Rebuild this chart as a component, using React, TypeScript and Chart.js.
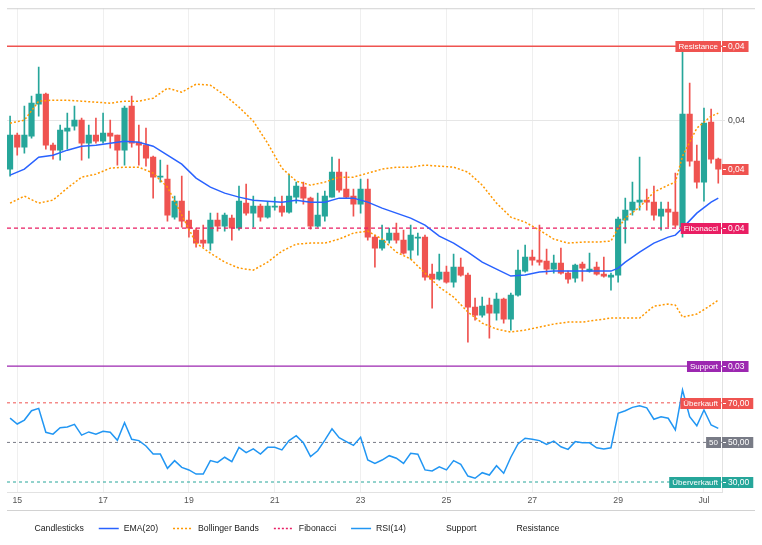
import React, { useEffect, useRef } from "react";
import { Chart, registerables } from "chart.js";

Chart.register(...registerables);

// ---------- data ----------
// 4-hour candles, index 0 = 14 Jun 20:00 ... index 99 = 1 Jul 08:00
const TICK_IDX = [1, 13, 25, 37, 49, 61, 73, 85, 97];
const TICK_LABELS = ["15", "17", "19", "21", "23", "25", "27", "29", "Jul"];

const OPEN = [
  0.038775, 0.039625, 0.039325, 0.0396, 0.0404, 0.04065, 0.039375, 0.03925, 0.039725, 0.03985,
  0.04, 0.039425, 0.039625, 0.039475, 0.039675, 0.039625, 0.03925, 0.04035, 0.03945, 0.039375,
  0.039075, 0.038575, 0.038525, 0.037575, 0.037975, 0.0375, 0.03725, 0.037, 0.036925, 0.0375,
  0.03735, 0.03755, 0.0373, 0.037925, 0.037675, 0.03785, 0.037575, 0.037825, 0.03785, 0.0377,
  0.038075, 0.038325, 0.03805, 0.03735, 0.0376, 0.038075, 0.0387, 0.038275, 0.0381, 0.0379,
  0.038275, 0.037075, 0.0368, 0.037, 0.037175, 0.037, 0.03675, 0.03705, 0.037075, 0.03615,
  0.036025, 0.0362, 0.03595, 0.036325, 0.036125, 0.035325, 0.035125, 0.035375, 0.035175, 0.035525,
  0.035025, 0.035625, 0.036225, 0.036575, 0.0365, 0.036475, 0.036275, 0.036425, 0.036175, 0.03605,
  0.0364, 0.036225, 0.036325, 0.03615, 0.036075, 0.036125, 0.0375, 0.03775, 0.03795, 0.038,
  0.03795, 0.0376, 0.037775, 0.0377, 0.037325, 0.04015, 0.038975, 0.03845, 0.03995, 0.039025,
];
const HIGH = [
  0.0401, 0.039675, 0.04035, 0.0406, 0.041325, 0.040675, 0.039425, 0.039875, 0.040175, 0.04035,
  0.04005, 0.039875, 0.04005, 0.040175, 0.04, 0.039625, 0.04035, 0.0406, 0.039875, 0.0398,
  0.0391, 0.039, 0.038875, 0.0381, 0.0386, 0.037725, 0.0373, 0.037375, 0.037675, 0.037675,
  0.037675, 0.037625, 0.03835, 0.0384, 0.0381, 0.0379, 0.03795, 0.038075, 0.0381, 0.03865,
  0.03845, 0.03845, 0.038075, 0.038175, 0.038225, 0.039075, 0.039025, 0.0387, 0.038275, 0.038525,
  0.038525, 0.037125, 0.037375, 0.0373, 0.037425, 0.03725, 0.037375, 0.037175, 0.037125, 0.0364,
  0.03665, 0.03635, 0.03665, 0.03655, 0.036175, 0.03555, 0.035575, 0.03555, 0.035675, 0.03555,
  0.035675, 0.03675, 0.036875, 0.03675, 0.037375, 0.036775, 0.036625, 0.0368, 0.036225, 0.0364,
  0.03645, 0.036675, 0.03645, 0.036575, 0.036175, 0.037575, 0.03805, 0.03845, 0.039075, 0.038275,
  0.03835, 0.03795, 0.03795, 0.038675, 0.04185, 0.040925, 0.039375, 0.0403, 0.040275, 0.03905,
];
const LOW = [
  0.0386, 0.039125, 0.039175, 0.03955, 0.0401, 0.039275, 0.039025, 0.039, 0.039275, 0.03975,
  0.039, 0.03905, 0.039425, 0.039425, 0.0393, 0.038875, 0.038875, 0.039325, 0.038875, 0.03885,
  0.03805, 0.03845, 0.037475, 0.037525, 0.037325, 0.037075, 0.036825, 0.036825, 0.03675, 0.037225,
  0.037225, 0.037, 0.03725, 0.037625, 0.037325, 0.037475, 0.03755, 0.03775, 0.0376, 0.037675,
  0.037925, 0.0379, 0.037275, 0.037325, 0.037475, 0.038075, 0.0382, 0.03805, 0.0376, 0.037675,
  0.037, 0.036325, 0.03675, 0.036925, 0.036925, 0.03665, 0.036525, 0.036625, 0.036, 0.0353,
  0.036, 0.035925, 0.035825, 0.0361, 0.03445, 0.035, 0.035075, 0.03455, 0.035, 0.034925,
  0.03475, 0.0356, 0.0362, 0.036375, 0.036375, 0.03615, 0.036175, 0.03615, 0.035925, 0.03595,
  0.035975, 0.0362, 0.036125, 0.036075, 0.03575, 0.03595, 0.036925, 0.037625, 0.03775, 0.03775,
  0.0375, 0.03725, 0.037325, 0.037325, 0.037075, 0.03885, 0.0383, 0.037975, 0.038925, 0.038425,
];
const CLOSE = [
  0.039625, 0.039325, 0.039625, 0.040425, 0.04065, 0.039375, 0.03925, 0.03975, 0.0398, 0.04,
  0.039425, 0.039625, 0.039475, 0.039675, 0.0396, 0.03925, 0.0403, 0.039425, 0.039375, 0.03905,
  0.038575, 0.0386, 0.037625, 0.037975, 0.037475, 0.0373, 0.036925, 0.036925, 0.0375, 0.03735,
  0.037625, 0.0373, 0.037975, 0.037675, 0.03785, 0.037575, 0.03785, 0.03785, 0.0377, 0.0381,
  0.03835, 0.03805, 0.03735, 0.037625, 0.0381, 0.0387, 0.03825, 0.038075, 0.0379, 0.038275,
  0.037075, 0.0368, 0.037, 0.037175, 0.037, 0.036675, 0.037125, 0.037075, 0.036075, 0.036025,
  0.0362, 0.03595, 0.036325, 0.036125, 0.035325, 0.035125, 0.03535, 0.035175, 0.035525, 0.035025,
  0.035625, 0.03625, 0.036575, 0.0365, 0.03645, 0.036275, 0.036425, 0.036175, 0.036025, 0.036375,
  0.0363, 0.036275, 0.03615, 0.0361, 0.036125, 0.037525, 0.03775, 0.03795, 0.038, 0.03795,
  0.037625, 0.037775, 0.0377, 0.037375, 0.04015, 0.038975, 0.03845, 0.039925, 0.039025, 0.038775,
];

// indicator lines, read at these candle indices
const SAMPLE_IDX = [
  0, 2, 4, 6, 8, 10, 12, 14, 16, 18, 20, 22, 24, 26, 28, 30, 32, 34, 36, 38, 40, 42, 44, 46, 48,
  50, 52, 54, 56, 58, 60, 62, 64, 66, 68, 70, 72, 74, 76, 78, 80, 82, 84, 85, 86, 88, 90, 92, 93,
  94, 96, 98, 99,
];
const EMA20 = [
  0.038625, 0.038775, 0.039075, 0.039125, 0.03925, 0.03935, 0.039375, 0.039425, 0.039475, 0.03945,
  0.03935, 0.039125, 0.0389, 0.03855, 0.038325, 0.038175, 0.038075, 0.038, 0.037975, 0.03795,
  0.038, 0.03795, 0.03795, 0.03805, 0.03805, 0.03795, 0.0378, 0.037675, 0.03755, 0.037375,
  0.0371, 0.036925, 0.0367, 0.03645, 0.036275, 0.0361, 0.036125, 0.0362, 0.036225, 0.036225,
  0.036225, 0.036225, 0.036225, 0.0363, 0.03645, 0.0367, 0.036925, 0.037075, 0.037125, 0.0373,
  0.037675, 0.03795, 0.03805,
];
const BB_UPPER = [
  0.039925, 0.04, 0.040475, 0.0405, 0.0405, 0.040475, 0.04045, 0.040425, 0.040475, 0.040475,
  0.04055, 0.0408, 0.0407, 0.0409, 0.040875, 0.040625, 0.040325, 0.039975, 0.039425, 0.0388,
  0.038475, 0.038375, 0.03845, 0.038575, 0.038575, 0.038675, 0.038775, 0.038825, 0.038825, 0.038875,
  0.03885, 0.038825, 0.0387, 0.038375, 0.037925, 0.037575, 0.03745, 0.03725, 0.037025, 0.036925,
  0.03695, 0.03695, 0.036975, 0.0373, 0.03755, 0.037825, 0.0382, 0.038375, 0.03845, 0.0391,
  0.0398, 0.0401, 0.040175,
];
const BB_LOWER = [
  0.037925, 0.0381, 0.037925, 0.038, 0.0383, 0.038575, 0.03865, 0.0388, 0.038825, 0.038825,
  0.038675, 0.038325, 0.037625, 0.036925, 0.036675, 0.03645, 0.0363, 0.03625, 0.03645, 0.036725,
  0.0369, 0.036925, 0.036925, 0.037025, 0.037175, 0.037225, 0.037025, 0.0367, 0.036525, 0.036175,
  0.035825, 0.035575, 0.0352, 0.034925, 0.034775, 0.0347, 0.03475, 0.034825, 0.0349, 0.03495,
  0.03495, 0.035, 0.03505, 0.03505, 0.03505, 0.03505, 0.03535, 0.0354, 0.035375, 0.035075,
  0.03515, 0.035375, 0.0355,
];
const RSI14 = [
  62.3, 59.3, 61.3, 66, 67.2, 55.1, 54.2, 57.4, 57.8, 59.1,
  53.7, 55.3, 54.1, 55.6, 55.1, 51.1, 60, 51.6, 50.9, 48.2,
  44.1, 44.1, 36.9, 40.8, 37.4, 36.1, 34, 34, 40.8, 39.9,
  42.5, 40.3, 47.5, 44.8, 46.7, 44.1, 47.5, 47.5, 46.2, 50.9,
  53.4, 49.8, 42.8, 45.8, 51.2, 56.9, 52.4, 50.4, 48.5, 52.6,
  41.1, 39.4, 41.1, 43.3, 42, 39.4, 44.5, 44, 36.1, 35.6,
  37.7, 36.1, 40.8, 38.9, 33, 31.9, 34.7, 33.5, 38.2, 34.4,
  42.5, 49.2, 52.1, 51.6, 50.9, 49, 50.7, 47.8, 46.5, 50.4,
  49.8, 49.8, 47.3, 46.7, 47.3, 64.7, 66, 67.7, 68.5, 67.5,
  61.7, 63, 62.2, 56.3, 76.5, 63, 58.4, 66.4, 58.8, 57.1,
];

const RESISTANCE = 0.04185;
const SUPPORT = 0.03385;
const FIBONACCI = 0.0373;
const RSI_OVERBOUGHT = 70;
const RSI_MID = 50;
const RSI_OVERSOLD = 30;
const PRICE_TICKS = [0.04];
const RSI_TICKS = [30, 40, 50, 60, 70, 80];
const RSI_PLAIN_TICKS = [40, 60, 80];

// ---------- view settings ----------
const X_MIN = -0.43;
const X_MAX = 99.52;
const PRICE_MIN = 0.0337;
const PRICE_MAX = 0.0428;
const RSI_MIN = 24.95;
const RSI_MAX = 85.55;

const UP = "#26a69a";
const DOWN = "#ef5350";
const EMA_COLOR = "#2962ff";
const BB_COLOR = "#ff9800";
const FIB_COLOR = "#e91e63";
const RSI_COLOR = "#2196f3";
const SUPPORT_COLOR = "#9c27b0";
const RES_COLOR = "#ef5350";
const MID_COLOR = "#787b86";
const FONT = '"Liberation Sans", Arial, sans-serif';

const fmt = (v: number) => v.toFixed(2).replace(".", ",");

const TAGS = [
  { axis: "y", value: RESISTANCE, text: "Resistance", color: RES_COLOR },
  { axis: "y", value: CLOSE[CLOSE.length - 1], text: "", color: DOWN },
  { axis: "y", value: FIBONACCI, text: "Fibonacci", color: FIB_COLOR },
  { axis: "y", value: SUPPORT, text: "Support", color: SUPPORT_COLOR },
  { axis: "yR", value: RSI_OVERBOUGHT, text: "Überkauft", color: DOWN },
  { axis: "yR", value: RSI_MID, text: "50", color: MID_COLOR },
  { axis: "yR", value: RSI_OVERSOLD, text: "Überverkauft", color: UP },
];

const LEGEND = [
  { text: "Candlesticks", color: "", dash: [] as number[] },
  { text: "EMA(20)", color: EMA_COLOR, dash: [] as number[] },
  { text: "Bollinger Bands", color: BB_COLOR, dash: [2, 2] },
  { text: "Fibonacci", color: FIB_COLOR, dash: [2, 2] },
  { text: "RSI(14)", color: RSI_COLOR, dash: [] as number[] },
  { text: "Support", color: "", dash: [] as number[] },
  { text: "Resistance", color: "", dash: [] as number[] },
];

const framePlugin = {
  id: "frame",
  afterDraw(chart: any) {
    const ctx = chart.ctx;
    const a = chart.chartArea;
    const xs = chart.scales.x;
    ctx.save();
    ctx.strokeStyle = "#d2d2d2";
    ctx.lineWidth = 1;
    ctx.beginPath();
    ctx.moveTo(a.left, a.top + 0.5);
    ctx.lineTo(755, a.top + 0.5);
    ctx.moveTo(a.left, xs.bottom - 0.5);
    ctx.lineTo(755, xs.bottom - 0.5);
    ctx.stroke();
    ctx.restore();
  },
};

const tagPlugin = {
  id: "tags",
  afterDraw(chart: any) {
    const ctx = chart.ctx;
    const right = chart.chartArea.right;
    ctx.save();
    ctx.textBaseline = "middle";
    ctx.textAlign = "left";
    for (const t of TAGS) {
      const y = Math.round(chart.scales[t.axis].getPixelForValue(t.value));
      const val = fmt(t.value);
      ctx.font = `8.5px ${FONT}`;
      const vw = ctx.measureText(val).width;
      ctx.fillStyle = t.color;
      ctx.fillRect(right, y - 5, vw + 10, 11);
      ctx.strokeStyle = "#fff";
      ctx.lineWidth = 1;
      ctx.beginPath();
      ctx.moveTo(right + 1, y + 0.5);
      ctx.lineTo(right + 4, y + 0.5);
      ctx.stroke();
      ctx.fillStyle = "#fff";
      ctx.fillText(val, right + 6, y + 1);
      if (t.text) {
        ctx.font = `8px ${FONT}`;
        const lw = ctx.measureText(t.text).width;
        ctx.fillStyle = t.color;
        ctx.fillRect(right - 1 - lw - 6, y - 5, lw + 6, 11);
        ctx.fillStyle = "#fff";
        ctx.fillText(t.text, right - 1 - lw - 3, y + 1);
      }
    }
    ctx.restore();
  },
};

const legendPlugin = {
  id: "customLegend",
  afterDraw(chart: any) {
    const ctx = chart.ctx;
    ctx.save();
    ctx.font = `8.7px ${FONT}`;
    ctx.textBaseline = "middle";
    ctx.textAlign = "left";
    let x = 9.5;
    const y = 528.5;
    for (const it of LEGEND) {
      if (it.color) {
        ctx.strokeStyle = it.color;
        ctx.lineWidth = 1.5;
        ctx.setLineDash(it.dash);
        ctx.beginPath();
        ctx.moveTo(x, y);
        ctx.lineTo(x + 20, y);
        ctx.stroke();
        ctx.setLineDash([]);
      }
      ctx.fillStyle = "#222";
      ctx.fillText(it.text, x + 25, y);
      x += 25 + ctx.measureText(it.text).width + 15;
    }
    ctx.restore();
  },
};

function levelLine(label: string, value: number, axis: string, color: string, dash: number[], width: number) {
  return {
    type: "line" as const,
    label,
    data: [
      { x: X_MIN, y: value },
      { x: X_MAX, y: value },
    ],
    yAxisID: axis,
    borderColor: color,
    borderWidth: width,
    borderDash: dash,
    pointRadius: 0,
    order: 2,
  };
}

export default function App() {
  const ref = useRef<HTMLCanvasElement>(null);

  useEffect(() => {
    document.body.style.margin = "0";
    Chart.defaults.font.family = FONT;
    Chart.defaults.font.size = 8.7;
    const candleColors = OPEN.map((o, i) => (CLOSE[i] >= o ? UP : DOWN));
    const chart = new Chart(ref.current as HTMLCanvasElement, {
      type: "bar",
      data: {
        datasets: [
          {
            type: "line",
            label: "EMA(20)",
            data: SAMPLE_IDX.map((x, k) => ({ x, y: EMA20[k] })),
            yAxisID: "y",
            borderColor: EMA_COLOR,
            borderWidth: 1.5,
            pointRadius: 0,
            order: 1,
          },
          {
            type: "line",
            label: "Bollinger Bands",
            data: SAMPLE_IDX.map((x, k) => ({ x, y: BB_UPPER[k] })),
            yAxisID: "y",
            borderColor: BB_COLOR,
            borderWidth: 1.5,
            borderDash: [2, 2],
            pointRadius: 0,
            order: 1,
          },
          {
            type: "line",
            label: "Bollinger Lower",
            data: SAMPLE_IDX.map((x, k) => ({ x, y: BB_LOWER[k] })),
            yAxisID: "y",
            borderColor: BB_COLOR,
            borderWidth: 1.5,
            borderDash: [2, 2],
            pointRadius: 0,
            order: 1,
          },
          levelLine("Fibonacci", FIBONACCI, "y", FIB_COLOR, [4, 3], 1.2),
          levelLine("Support", SUPPORT, "y", SUPPORT_COLOR, [], 1.2),
          levelLine("Resistance", RESISTANCE, "y", RES_COLOR, [], 1.6),
          {
            type: "line",
            label: "RSI(14)",
            data: RSI14.map((y, x) => ({ x, y })),
            yAxisID: "yR",
            borderColor: RSI_COLOR,
            borderWidth: 1.5,
            pointRadius: 0,
            order: 1,
          },
          levelLine("Überkauft", RSI_OVERBOUGHT, "yR", DOWN, [3, 3], 1),
          levelLine("50", RSI_MID, "yR", MID_COLOR, [3, 3], 1),
          levelLine("Überverkauft", RSI_OVERSOLD, "yR", UP, [3, 3], 1),
          {
            type: "bar",
            label: "Wicks",
            data: OPEN.map((_, i) => ({ x: i, y: [LOW[i], HIGH[i]] })),
            yAxisID: "y",
            backgroundColor: candleColors,
            barThickness: 1,
            grouped: false,
            order: 11,
          },
          {
            type: "bar",
            label: "Candlesticks",
            data: OPEN.map((o, i) => ({ x: i, y: [o, CLOSE[i]] })),
            yAxisID: "y",
            backgroundColor: candleColors,
            barThickness: 5.5,
            minBarLength: 1,
            grouped: false,
            order: 10,
          },
        ] as any,
      },
      options: {
        responsive: false,
        animation: false,
        events: [],
        layout: { padding: { left: 7, top: 8, right: 0, bottom: 34 } },
        plugins: {
          legend: { display: false },
          tooltip: { enabled: false },
        },
        scales: {
          x: {
            type: "linear",
            min: X_MIN,
            max: X_MAX,
            offset: false,
            afterBuildTicks: (s: any) => {
              s.ticks = TICK_IDX.map((v) => ({ value: v }));
            },
            afterFit: (s: any) => {
              s.height = 19;
            },
            ticks: {
              autoSkip: false,
              maxRotation: 0,
              padding: 3,
              color: "#555",
              callback: (_v: any, i: number) => TICK_LABELS[i],
            },
            grid: { color: "#efefef", drawTicks: false, offset: false },
            border: { display: true, color: "#e2e2e2" },
          },
          y: {
            type: "linear",
            position: "right",
            stack: "panes",
            stackWeight: 364,
            min: PRICE_MIN,
            max: PRICE_MAX,
            afterBuildTicks: (s: any) => {
              s.ticks = PRICE_TICKS.map((v) => ({ value: v }));
            },
            afterFit: (s: any) => {
              s.width = 40;
            },
            ticks: { color: "#444", padding: 3, callback: (v: any) => fmt(Number(v)) },
            grid: { color: "#e6e6e6", tickLength: 3 },
            border: { display: true, color: "#e2e2e2" },
          },
          yR: {
            type: "linear",
            position: "right",
            stack: "panes",
            stackWeight: 120,
            min: RSI_MIN,
            max: RSI_MAX,
            afterBuildTicks: (s: any) => {
              s.ticks = RSI_TICKS.map((v) => ({ value: v }));
            },
            afterFit: (s: any) => {
              s.width = 40;
            },
            ticks: {
              color: "#444",
              padding: 3,
              callback: (v: any) => (RSI_PLAIN_TICKS.includes(Number(v)) ? fmt(Number(v)) : ""),
            },
            grid: {
              tickLength: 3,
              color: (c: any) =>
                c.tick && RSI_PLAIN_TICKS.includes(c.tick.value) ? "#e6e6e6" : "rgba(0,0,0,0)",
            },
            border: { display: true, color: "#e2e2e2" },
          },
        } as any,
      },
      plugins: [framePlugin, tagPlugin, legendPlugin],
    });
    return () => chart.destroy();
  }, []);

  return (
    <div style={{ width: 762, height: 545, background: "#fff" }}>
      <canvas ref={ref} width={762} height={545} style={{ display: "block" }} />
    </div>
  );
}
